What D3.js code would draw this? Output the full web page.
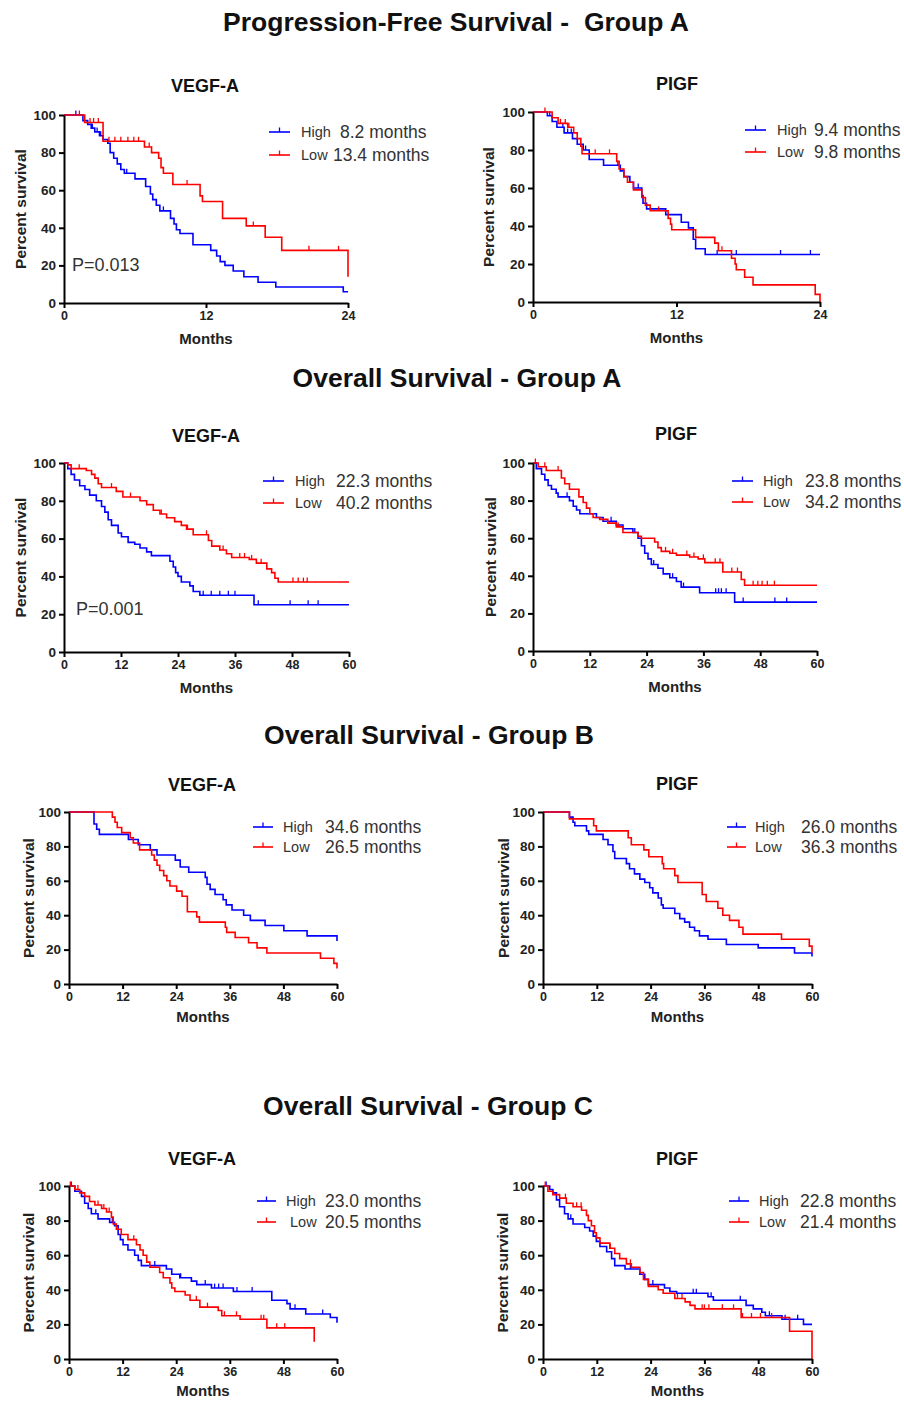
<!DOCTYPE html>
<html><head><meta charset="utf-8">
<script src="https://cdn.jsdelivr.net/npm/d3@7"></script>
<style>body{margin:0;background:#fff}svg{display:block}text{font-family:"Liberation Sans",Arial,sans-serif}</style>
</head><body><svg id="c" width="904" height="1401"></svg>
<script>
// ---------- DATA ----------
const sectionTitles = ["Progression-Free Survival -  Group A","Overall Survival - Group A","Overall Survival - Group B","Overall Survival - Group C"];
const panelTitles = ["VEGF-A","PIGF"];
const yTicks = [0,20,40,60,80,100];
const xTicksPFS = [0,12,24];
const xTicksOS = [0,12,24,36,48,60];
const groupLabels = ["High","Low"];
const medians = [["8.2 months","13.4 months"],["9.4 months","9.8 months"],["22.3 months","40.2 months"],["23.8 months","34.2 months"],["34.6 months","26.5 months"],["26.0 months","36.3 months"],["23.0 months","20.5 months"],["22.8 months","21.4 months"]];
const pValues = ["P=0.013",null,"P=0.001",null,null,null,null,null];

// PFS Group A, VEGF-A
const pfsA_vegf_high = [[0,100],[1.6,97],[2.0,95],[2.3,93],[2.6,91],[3.0,89],[3.3,87],[3.7,85],[3.9,80],[4.2,77],[4.5,74],[4.8,71],[5.1,69],[6.0,66],[6.9,62],[7.3,58],[7.5,55],[7.8,52],[8.1,49],[9.0,45],[9.3,42],[9.5,39],[9.8,37],[10.9,31],[12.4,28],[12.9,25],[13.2,22],[13.6,20],[14.3,17],[15.2,14],[16.4,11],[17.9,8.5],[23.6,6],[24,6]];
const pfsA_vegf_high_cens = [1.0,2.4,2.8,3.1,5.3,8.4];
const pfsA_vegf_low = [[0,100],[1.75,96],[3.3,86],[6.8,83],[7.4,80],[8.0,77],[8.2,72],[8.4,69],[9.2,63],[11.5,57],[11.7,54],[13.4,45],[15.4,41],[17.0,35],[18.4,28],[24,14]];
const pfsA_vegf_low_cens = [1.3,2.2,2.5,2.9,3.8,4.3,4.8,5.4,5.9,6.3,7.2,10.4,16.0,20.7,23.2];
// PFS Group A, PIGF
const pfsA_pigf_high = [[0,100],[1.2,98],[1.6,95],[2.0,92],[2.6,89],[3.3,86],[3.7,83],[4.2,80],[4.7,75],[5.9,72],[7.3,69],[7.6,66],[8.1,63],[8.4,60],[9.1,56],[9.2,52],[9.5,49],[11.1,46],[12.4,42],[13.0,39],[13.4,33],[13.6,28],[14.4,25],[24,25]];
const pfsA_pigf_high_cens = [1.4,2.5,2.9,3.2,4.4,7.1,8.8,15.4,17.0,20.7,23.2];
const pfsA_pigf_low = [[0,100],[1.6,97],[2.1,94],[2.9,92],[3.4,89],[3.7,86],[4.0,82],[4.1,78],[7.0,74],[7.2,70],[7.6,66],[7.9,63],[8.4,59],[9.1,55],[9.4,51],[9.8,48],[11.3,44],[11.5,41],[11.6,38],[13.6,34],[15.2,31],[15.5,27],[16.6,23],[16.9,20],[17.0,17],[17.7,13],[18.4,9],[23.6,4],[24,0]];
const pfsA_pigf_low_cens = [1.0,2.3,2.7,3.0,5.2,6.4,10.5,15.8];
// OS Group A, VEGF-A
const osA_vegf_high = [[0,100],[0.8,97],[1.5,94],[2.2,91],[3.3,88],[4.4,86],[5.4,83],[6.8,80],[7.9,77],[8.6,74],[9.3,70],[10.0,67],[11.4,63],[12.1,61],[13.5,58],[14.9,57],[16.0,55],[17.4,53],[18.4,51],[22.3,48],[23.0,45],[23.5,42],[24.0,40],[24.7,37],[26.5,35],[27.2,32],[28.6,30],[40.0,25],[60,25]];
const osA_vegf_high_cens = [29.3,31.0,32.8,34.6,36.0,40.9,47.6,51.4,53.5];
const osA_vegf_low = [[0,100],[0.8,99],[1.5,97],[4.7,96],[5.8,94],[6.5,92],[7.2,89],[7.9,87],[11.0,85],[12.4,82],[16.0,80],[17.4,78],[18.8,75],[20.2,73],[21.6,71],[23.3,69],[24.7,67],[25.8,65],[27.2,62],[30.4,59],[31.1,56],[32.8,54],[34.2,52],[35.3,50],[39.0,49],[40.5,47],[42.7,44],[43.7,42],[44.4,39],[45.1,37],[60,37]];
const osA_vegf_low_cens = [3.2,10.0,14.0,20.5,26.0,30.0,33.5,37.0,38.0,39.5,41.5,48.2,49.3,50.4,51.2];
// OS Group A, PIGF
const osA_pigf_high = [[0,100],[0.7,97],[1.8,94],[2.5,91],[3.2,88],[3.9,86],[4.9,84],[5.3,82],[7.7,80],[8.5,77],[9.2,75],[9.9,73],[13.4,71],[14.8,69],[17.6,67],[19.0,65],[21.1,63],[22.2,60],[22.9,56],[23.6,52],[24.3,49],[25.0,46],[26.4,44],[27.5,41],[28.9,39],[30.3,37],[31.3,34],[35.2,31],[42.6,26],[60,26]];
const osA_pigf_high_cens = [7.2,16.5,21.5,25.5,29.5,31.8,38.6,39.2,39.8,40.8,44.4,51.1,53.6];
const osA_pigf_low = [[0,100],[1.1,98],[2.8,96],[6.0,92],[6.7,89],[7.7,86],[9.7,82],[10.6,79],[11.3,76],[12.0,73],[12.7,71],[14.1,70],[15.8,68],[17.6,66],[19.0,63],[22.2,61],[22.9,60],[25.7,58],[26.4,55],[27.1,53],[28.9,52],[30.3,51],[33.1,50],[34.9,49],[36.3,47],[40.1,42],[44.0,38],[44.7,35],[60,35]];
const osA_pigf_low_cens = [0.5,2.5,5.3,18.0,28.0,29.5,32.5,34.0,36.0,38.5,39.5,42.0,43.2,46.5,47.5,48.4,49.5,51.0];
// OS Group B, VEGF-A
const osB_vegf_high = [[0,100],[5.6,93],[6.2,90],[6.8,87],[13.3,84],[15.5,81],[18.2,78],[19.7,75],[23.8,72],[24.9,68],[26.8,65],[30.5,62],[30.9,58],[31.6,55],[32.7,52],[34.5,49],[35.2,46],[36.5,43],[39.1,40],[40.6,37],[43.9,34],[48.1,31],[53.3,28],[60,25]];
const osB_vegf_high_cens = [];
const osB_vegf_low = [[0,100],[9.7,97],[10.3,94],[10.8,91],[11.8,88],[13.7,85],[14.4,82],[15.8,78],[18.5,75],[19.1,72],[19.7,69],[20.3,66],[21.2,63],[21.9,60],[22.6,57],[24.1,54],[25.3,51],[26.5,42],[28.6,39],[29.2,36],[35.0,33],[35.3,30],[37.2,27],[40.2,24],[42.1,21],[44.3,18],[56.3,15],[59.3,12],[60,9]];
const osB_vegf_low_cens = [];
// OS Group B, PIGF
const osB_pigf_high = [[0,100],[5.9,97],[6.7,94],[7.1,92],[9.7,89],[10.2,87],[13.4,84],[14.5,81],[15.6,77],[16.0,73],[18.6,70],[19.3,67],[20.4,64],[21.6,61],[22.7,59],[23.8,56],[24.5,53],[25.7,50],[26.4,46],[26.8,44],[29.4,41],[30.5,38],[31.6,36],[32.7,33],[33.8,31],[34.9,28],[36.8,26],[40.9,23],[48.0,21],[56.1,18],[60,16]];
const osB_pigf_high_cens = [];
const osB_pigf_low = [[0,100],[5.9,96],[11.3,92],[11.9,89],[19.0,85],[19.7,81],[22.5,78],[23.6,74],[26.6,70],[26.9,67],[29.4,63],[30.1,59],[35.5,52],[36.4,48],[39.0,44],[40.1,40],[41.6,37],[43.7,33],[44.6,29],[53.2,26],[59.4,22],[60,18]];
const osB_pigf_low_cens = [];
// OS Group C, VEGF-A
const osC_vegf_high = [[0,100],[1.3,97],[2.8,94],[3.5,90],[4.3,87],[5.0,84],[6.5,81],[9.1,79],[10.2,77],[11.0,72],[11.5,69],[12.1,66],[13.2,63],[14.7,60],[15.5,57],[16.2,54],[21.8,52],[23.0,49],[24.8,47],[27.4,45],[28.6,43],[31.9,41],[36.8,39],[45.4,34],[48.8,32],[49.5,29],[53.0,26],[58.5,24],[60,21]];
const osC_vegf_high_cens = [0.5,6.0,9.7,19.2,25.0,30.5,32.6,33.5,34.5,37.6,41.0,50.6,56.8];
const osC_vegf_low = [[0,100],[1.3,98],[2.4,96],[3.5,94],[4.6,91],[5.8,89],[7.3,87],[8.4,85],[9.5,82],[9.9,78],[10.6,75],[11.7,72],[13.2,69],[15.1,66],[15.9,63],[16.6,60],[17.4,56],[18.1,53],[20.3,50],[21.1,47],[22.6,44],[23.0,41],[23.7,39],[26.0,37],[27.1,34],[29.3,30],[33.4,28],[34.2,25],[38.3,23],[44.3,18],[54.9,10]];
const osC_vegf_low_cens = [0.3,2.0,6.5,7.8,9.0,14.5,28.5,31.0,34.8,37.5,43.0,43.6,46.5,48.3];
// OS Group C, PIGF
const osC_pigf_high = [[0,100],[1.5,98],[2.2,96],[3.0,92],[3.7,88],[4.8,84],[5.6,81],[6.7,78],[9.3,76],[10.4,74],[11.2,71],[11.9,68],[12.7,65],[14.2,62],[15.3,58],[16.0,54],[18.3,52],[21.6,49],[22.7,46],[23.5,43],[27.1,41],[28.3,39],[29.8,38],[36.8,36],[38.0,34],[45.3,31],[46.9,29],[48.8,27],[49.6,25],[53.3,23],[58.1,20],[60,20]];
const osC_pigf_high_cens = [0.7,6.2,19.5,24.5,33.5,34.2,37.5,44.0,50.5,54.0,56.8];
const osC_pigf_low = [[0,100],[1.1,97],[2.2,95],[3.7,93],[5.2,90],[6.7,88],[8.6,86],[9.7,83],[10.1,80],[10.8,77],[11.5,73],[11.9,70],[12.7,67],[14.9,64],[16.0,61],[17.1,58],[18.6,55],[19.7,53],[21.6,50],[22.4,46],[23.5,42],[25.7,40],[26.8,38],[29.4,35],[31.7,33],[32.8,31],[33.9,29],[44.2,24],[55.0,16],[60,0]];
const osC_pigf_low_cens = [0.5,5.0,7.5,8.5,15.0,19.5,30.0,31.0,35.5,36.0,37.0,40.0,42.5,44.5,46.5,48.5,51.0];

// ---------- LAYOUT ----------
const svg = d3.select("#c");
const FONT = '"Liberation Sans",Arial,sans-serif';
const BLUE = "#0000ff", RED = "#ff0000";

const sections = [
  {title: sectionTitles[0], x: 456, y: 31},
  {title: sectionTitles[1], x: 457, y: 387},
  {title: sectionTitles[2], x: 429, y: 744},
  {title: sectionTitles[3], x: 428, y: 1115}
];
sections.forEach(s => svg.append("text").attr("x", s.x).attr("y", s.y).attr("text-anchor","middle")
  .style("white-space","pre").attr("font-size", 26.5).attr("font-weight","bold").attr("fill","#111").text(s.title));

const panels = [
  {x0:64, x1:348, y0:303, y1:115, xmax:24, xt:xTicksPFS, title:panelTitles[0], tx:205, ty:92, ylx:20, mo:41,
   hi:pfsA_vegf_high, hic:pfsA_vegf_high_cens, lo:pfsA_vegf_low, loc:pfsA_vegf_low_cens,
   leg:{lx:269, lw:21, y:132, gap:23, hx:301, lxT:301, hvx:340, lvx:333}, pv:{x:72, y:271}},
  {x0:533, x1:820, y0:302, y1:112, xmax:24, xt:xTicksPFS, title:panelTitles[1], tx:677, ty:90, ylx:488, mo:41,
   hi:pfsA_pigf_high, hic:pfsA_pigf_high_cens, lo:pfsA_pigf_low, loc:pfsA_pigf_low_cens,
   leg:{lx:745, lw:21, y:130, gap:22, hx:777, lxT:777, hvx:814, lvx:814}},
  {x0:64, x1:349, y0:652, y1:463, xmax:60, xt:xTicksOS, title:panelTitles[0], tx:206, ty:442, ylx:20, mo:41,
   hi:osA_vegf_high, hic:osA_vegf_high_cens, lo:osA_vegf_low, loc:osA_vegf_low_cens,
   leg:{lx:263, lw:21, y:481, gap:22, hx:295, lxT:295, hvx:336, lvx:336}, pv:{x:76, y:615}},
  {x0:533, x1:817, y0:651, y1:463, xmax:60, xt:xTicksOS, title:panelTitles[1], tx:676, ty:440, ylx:490, mo:41,
   hi:osA_pigf_high, hic:osA_pigf_high_cens, lo:osA_pigf_low, loc:osA_pigf_low_cens,
   leg:{lx:732, lw:21, y:481, gap:21, hx:763, lxT:763, hvx:805, lvx:805}},
  {x0:69, x1:337, y0:984, y1:812, xmax:60, xt:xTicksOS, title:panelTitles[0], tx:202, ty:791, ylx:28, mo:38,
   hi:osB_vegf_high, hic:osB_vegf_high_cens, lo:osB_vegf_low, loc:osB_vegf_low_cens,
   leg:{lx:253, lw:20, y:827, gap:20, hx:283, lxT:283, hvx:325, lvx:325}},
  {x0:543, x1:812, y0:984, y1:812, xmax:60, xt:xTicksOS, title:panelTitles[1], tx:677, ty:790, ylx:503, mo:38,
   hi:osB_pigf_high, hic:osB_pigf_high_cens, lo:osB_pigf_low, loc:osB_pigf_low_cens,
   leg:{lx:727, lw:19, y:827, gap:20, hx:755, lxT:755, hvx:801, lvx:801}},
  {x0:69, x1:337, y0:1359, y1:1186, xmax:60, xt:xTicksOS, title:panelTitles[0], tx:202, ty:1165, ylx:28, mo:37,
   hi:osC_vegf_high, hic:osC_vegf_high_cens, lo:osC_vegf_low, loc:osC_vegf_low_cens,
   leg:{lx:257, lw:19, y:1201, gap:21, hx:286, lxT:290, hvx:325, lvx:325}},
  {x0:543, x1:812, y0:1359, y1:1186, xmax:60, xt:xTicksOS, title:panelTitles[1], tx:677, ty:1165, ylx:502, mo:37,
   hi:osC_pigf_high, hic:osC_pigf_high_cens, lo:osC_pigf_low, loc:osC_pigf_low_cens,
   leg:{lx:729, lw:20, y:1201, gap:21, hx:759, lxT:759, hvx:800, lvx:800}}
];

function survAt(series, t){
  let v = series[0][1];
  for (const p of series){ if (p[0] <= t) v = p[1]; else break; }
  return v;
}

panels.forEach((p, i) => {
  const g = svg.append("g");
  const x = d3.scaleLinear().domain([0, p.xmax]).range([p.x0, p.x1]);
  const y = d3.scaleLinear().domain([0, 100]).range([p.y0, p.y1]);

  // curves
  const line = d3.line().x(d => x(d[0])).y(d => y(d[1])).curve(d3.curveStepAfter);
  [[p.hi, p.hic, BLUE], [p.lo, p.loc, RED]].forEach(([s, c, col]) => {
    g.append("path").attr("d", line(s)).attr("fill","none").attr("stroke", col).attr("stroke-width", 1.6);
    g.selectAll(null).data(c).enter().append("line")
      .attr("x1", d => x(d)).attr("x2", d => x(d))
      .attr("y1", d => y(survAt(s, d))).attr("y2", d => y(survAt(s, d)) - 4.5)
      .attr("stroke", col).attr("stroke-width", 1.3);
  });

  // axes
  const xa = g.append("g").attr("transform", `translate(0,${p.y0})`)
    .call(d3.axisBottom(x).tickValues(p.xt).tickSize(5).tickPadding(3).tickSizeOuter(0));
  const ya = g.append("g").attr("transform", `translate(${p.x0},0)`)
    .call(d3.axisLeft(y).tickValues(yTicks).tickSize(5).tickPadding(3).tickSizeOuter(0));
  [xa, ya].forEach(a => {
    a.select(".domain").attr("stroke","#000").attr("stroke-width", 2);
    a.selectAll(".tick line").attr("stroke","#000").attr("stroke-width", 2);
    a.selectAll(".tick text").attr("font-family", FONT).attr("font-weight","bold").attr("fill","#222");
  });
  xa.selectAll(".tick text").attr("font-size", 12.5);
  ya.selectAll(".tick text").attr("font-size", 13.5);

  // titles & labels
  g.append("text").attr("x", p.tx).attr("y", p.ty).attr("text-anchor","middle")
    .attr("font-size", 18).attr("font-weight","bold").attr("fill","#111").text(p.title);
  g.append("text").attr("x", (p.x0 + p.x1) / 2).attr("y", p.y0 + p.mo).attr("text-anchor","middle")
    .attr("font-size", 15).attr("font-weight","bold").attr("fill","#222").text("Months");
  const cy = (p.y0 + p.y1) / 2;
  g.append("text").attr("transform", `translate(${p.ylx},${cy}) rotate(-90)`).attr("text-anchor","middle")
    .attr("dominant-baseline","central").attr("font-size", 15.5).attr("font-weight","bold").attr("fill","#222").text("Percent survival");

  // legend
  const L = p.leg;
  [[BLUE, 0, L.hx, L.hvx], [RED, 1, L.lxT, L.lvx]].forEach(([col, k, tx, vx]) => {
    const yy = L.y + k * L.gap;
    g.append("line").attr("x1", L.lx).attr("x2", L.lx + L.lw).attr("y1", yy).attr("y2", yy).attr("stroke", col).attr("stroke-width", 1.6);
    g.append("line").attr("x1", L.lx + L.lw/2).attr("x2", L.lx + L.lw/2).attr("y1", yy).attr("y2", yy - 4.5).attr("stroke", col).attr("stroke-width", 1.3);
    g.append("text").attr("x", tx).attr("y", yy + 5).attr("font-size", 14.5).attr("fill","#333").text(groupLabels[k]);
    g.append("text").attr("x", vx).attr("y", yy + 6).attr("font-size", 17.5).attr("fill","#333").text(medians[i][k]);
  });

  if (pValues[i]) {
    g.append("text").attr("x", p.pv.x).attr("y", p.pv.y).attr("font-size", 18).attr("fill","#333").text(pValues[i]);
  }
});
</script></body></html>
